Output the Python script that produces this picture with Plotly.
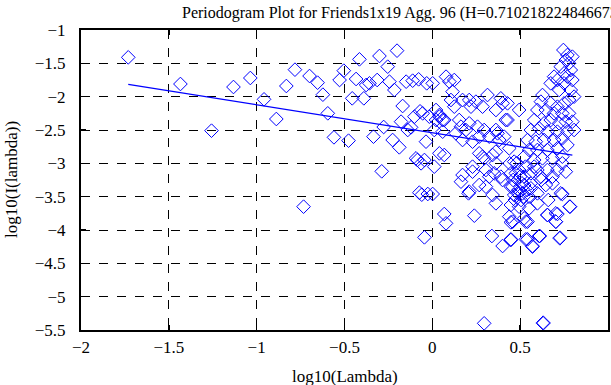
import plotly.graph_objects as go

# ---- data ----
log_lambda = [
    -1.731, -1.434, -1.257, -1.132, -1.036, -0.958, -0.888, -0.831, -0.782, -0.699,
    -0.653, -0.623, -0.733, -0.595, -0.560,
    -0.504, -0.528, -0.477, -0.456, -0.415, -0.434, -0.390, -0.377, -0.358, -0.314,
    -0.301, -0.335, -0.288, -0.277, -0.254, -0.244, -0.226, -0.216, -0.201, -0.188,
    -0.178, -0.169, -0.149, -0.140, -0.121, -0.112, -0.102, -0.093, -0.078, -0.074,
    -0.064, -0.055, -0.045, -0.036, -0.032, -0.026, -0.017, -0.045, -0.085, -0.070, -0.060,
    0.068, 0.078, 0.239, 0.206, 0.295, 0.339, 0.400, 0.447, 0.447, 0.532,
    0.542, 0.570, 0.612, 0.631, 0.655, 0.703, 0.712, 0.726, 0.782, 0.740,
    0.002, 0.210, 0.362, 0.343, 0.305, 0.267, 0.163,
    0.002, 0.078, 0.097, 0.125, 0.115, 0.106, 0.125, 0.040, 0.059, 0.021,
    0.011, 0.059, 0.153, 0.163, 0.191, 0.172, 0.220, 0.248, 0.286, 0.314,
    0.362, 0.390, 0.210, 0.257, 0.295, 0.324, 0.362, 0.381, 0.267, 0.229,
    0.172, 0.134, 0.068, 0.040, 0.011, 0.267, 0.295, 0.343, 0.362, 0.305,
    0.229, 0.172, 0.390, 0.352,
    0.400, 0.418, 0.371, 0.362, 0.286, 0.229, 0.324, 0.400, 0.475, 0.457,
    0.513, 0.210, 0.068, 0.021, 0.040,
    0.494, 0.428, 0.428, 0.409, 0.438, 0.466, 0.494, 0.447, 0.523, 0.523,
    0.551, 0.542, 0.561, 0.580, 0.598, 0.618, 0.627, 0.674, 0.693, 0.722,
    0.750, 0.769, 0.797, 0.788, 0.778, 0.760, 0.746, 0.769, 0.797, 0.750,
    0.731, 0.712, 0.788, 0.807, 0.778, 0.750, 0.712, 0.674, 0.646, 0.693,
    0.740, 0.778, 0.797, 0.760, 0.722, 0.674, 0.636, 0.608, 0.655, 0.712,
    0.769, 0.807, 0.740, 0.693, 0.636, 0.589, 0.598, 0.655, 0.712, 0.769,
    0.740, 0.684, 0.627, 0.580, 0.760, 0.712, 0.655, 0.598, 0.561, 0.618,
    0.684, 0.740,
    0.447, 0.486, 0.523, 0.561, 0.598, 0.646, 0.684, 0.731, 0.466, 0.598,
    0.551, 0.494, 0.447, 0.438, 0.457, 0.523, 0.542, 0.655, 0.703, 0.703,
    0.784, 0.447, 0.532, 0.570, 0.608, 0.727, 0.631,
    0.480, 0.500, 0.510, 0.490, 0.530, 0.460, 0.520, 0.505, 0.470, 0.540,
    0.550, 0.440, 0.560, 0.580, 0.620, 0.660,
]
log_I = [
    -1.41, -1.81, -2.51, -1.855, -1.72, -2.04, -2.335, -1.84, -1.595, -1.69,
    -1.79, -1.97, -3.65, -2.25, -2.61,
    -1.61, -1.75, -2.66, -2.025, -1.44, -1.735, -2.025, -1.825, -1.80, -1.75,
    -1.39, -2.60, -3.12, -2.455, -1.55, -1.775, -2.65, -1.90, -1.31, -2.76,
    -2.375, -2.14, -1.775, -2.50, -2.46, -1.76, -2.30, -2.925, -1.74, -3.44,
    -3.00, -2.25, -4.11, -2.675, -1.80, -3.46, -2.30, -2.95, -2.95, -2.22, -3.47,
    -3.76, -3.90, -3.785, -3.45, -5.40, -4.09, -4.24, -4.14, -3.885, -3.875,
    -4.14, -4.25, -4.09, -5.39, -3.775, -3.875, -3.76, -4.125, -3.65, -3.46,
    -3.46, -3.425, -3.60, -3.475, -3.35, -3.325, -3.275,
    -1.80, -1.70, -1.775, -1.75, -1.925, -2.05, -2.15, -2.275, -2.35, -2.35,
    -2.50, -2.525, -2.35, -2.45, -2.50, -2.05, -2.15, -2.075, -2.15, -1.975,
    -2.20, -2.025, -2.40, -2.45, -2.50, -2.60, -2.50, -2.65, -2.60, -2.675,
    -2.65, -2.55, -2.875, -2.85, -3.05, -2.85, -2.925, -2.875, -3.00, -3.10,
    -3.125, -3.175, -3.20, -3.15,
    -2.10, -2.35, -2.55, -2.825, -2.90, -3.05, -3.20, -3.25, -3.15, -3.35,
    -3.45, -2.05, -2.35, -2.20, -2.30,
    -2.20, -2.10, -2.35, -2.60, -2.775, -2.975, -3.10, -3.15, -3.20, -2.90,
    -2.80, -2.65, -2.50, -2.35, -2.20, -2.075, -1.975, -1.80, -1.70, -1.90,
    -1.80, -1.70, -1.75, -1.60, -1.50, -1.45, -1.30, -1.375, -1.40, -1.65,
    -1.55, -1.75, -1.90, -2.00, -2.05, -2.10, -2.15, -2.10, -2.20, -2.25,
    -2.25, -2.25, -2.375, -2.375, -2.40, -2.35, -2.40, -2.475, -2.525, -2.525,
    -2.525, -2.50, -2.625, -2.65, -2.65, -2.675, -2.80, -2.80, -2.775, -2.725,
    -2.90, -2.925, -2.925, -2.95, -3.125, -3.10, -3.10, -3.10, -3.15, -3.20,
    -3.20, -3.00,
    -3.35, -3.45, -3.325, -3.375, -3.45, -3.325, -3.30, -3.45, -3.475, -3.60,
    -3.675, -3.65, -3.625, -3.80, -3.875, -3.825, -3.875, -3.775, -3.75, -3.875,
    -3.65, -4.15, -4.14, -4.24, -4.09, -4.115, -5.40,
    -3.00, -3.20, -3.30, -3.40, -3.05, -3.25, -3.50, -3.55, -3.55, -3.40,
    -3.50, -3.00, -3.30, -3.05, -3.25, -3.55,
]
fit_x = [-1.731, 0.797]
fit_y = [-1.815, -2.877]

x_ticks = [-2, -1.5, -1, -0.5, 0, 0.5, 1]
y_ticks = [-5.5, -5, -4.5, -4, -3.5, -3, -2.5, -2, -1.5, -1]

title_text = "Periodogram Plot for Friends1x19 Agg. 96 (H=0.710218224846673"
x_title = "log10(Lambda)"
y_title = "log10(I(lambda))"

FONT = "Liberation Serif"

fig = go.Figure()
fig.add_trace(go.Scatter(
    x=log_lambda, y=log_I, mode="markers",
    marker=dict(symbol="diamond-open", size=10.5, color="#0000ff",
                line=dict(width=1, color="#0000ff")),
    showlegend=False, hoverinfo="skip",
))
fig.add_trace(go.Scatter(
    x=fit_x, y=fit_y, mode="lines",
    line=dict(color="#0000ff", width=1.2),
    showlegend=False, hoverinfo="skip",
))

axis_common = dict(
    showline=True, linecolor="black", linewidth=2, mirror="allticks",
    ticks="inside", ticklen=5, tickcolor="black", tickwidth=1.5,
    showgrid=True, gridcolor="black", gridwidth=1, griddash="dash",
    zeroline=False, automargin=False,
    tickfont=dict(family=FONT, size=17, color="black"),
)

fig.update_layout(
    width=611, height=385,
    margin=dict(l=81, r=3, t=30, b=55, autoexpand=False),
    paper_bgcolor="white", plot_bgcolor="white",
    font=dict(family=FONT, size=17, color="black"),
    hovermode=False,
    xaxis=dict(range=[-2, 1], tickvals=x_ticks, ticklabelstandoff=1, **axis_common),
    yaxis=dict(range=[-5.5, -1], tickvals=y_ticks, ticklabelstandoff=10, **axis_common),
    annotations=[
        dict(text=title_text, xref="paper", yref="paper", x=0.188, y=1.0,
             xanchor="left", yanchor="bottom", yshift=6, showarrow=False,
             font=dict(family=FONT, size=16, color="black")),
        dict(text=x_title, xref="paper", yref="paper", x=0.5, y=0,
             xanchor="center", yanchor="top", yshift=-35, showarrow=False,
             font=dict(family=FONT, size=17, color="black")),
        dict(text=y_title, xref="paper", yref="paper", x=0, y=0.5,
             xanchor="center", yanchor="middle", xshift=-70, textangle=-90,
             showarrow=False,
             font=dict(family=FONT, size=17, color="black")),
    ],
)

fig.write_html(
    "out.html",
    config={"displayModeBar": False, "staticPlot": True},
    post_script="document.body.style.margin='0';document.body.style.overflow='hidden';",
)
